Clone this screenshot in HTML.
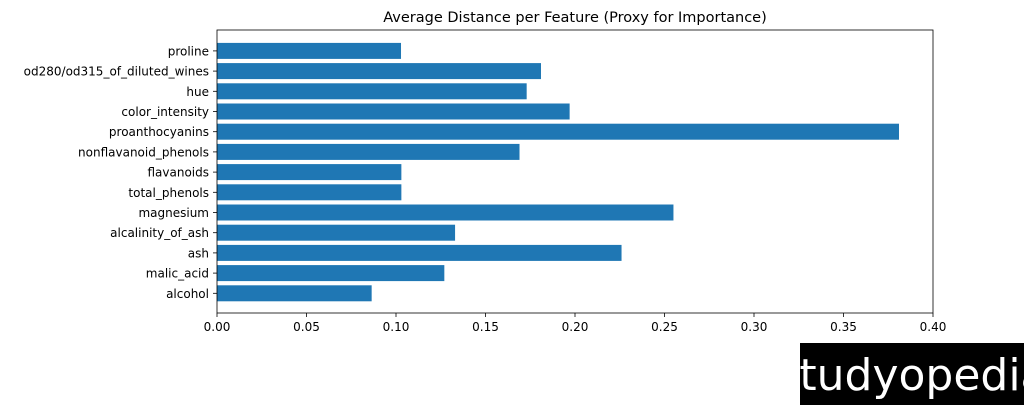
<!DOCTYPE html>
<html><head><meta charset="utf-8"><style>
body{margin:0;background:#fff;width:1024px;height:405px;overflow:hidden;font-family:"DejaVu Sans","Liberation Sans",sans-serif}
</style></head><body>
<svg id="chart" width="1024" height="405" xmlns="http://www.w3.org/2000/svg">
<text x="575" y="22" font-size="14.5" text-anchor="middle" fill="#000">Average Distance per Feature (Proxy for Importance)</text>
<g id="bars"></g><g id="axes"></g>
<rect x="800" y="343" width="224" height="62" fill="#000"/>
<text x="912" y="390" font-size="44" fill="#fff" text-anchor="middle" font-family="DejaVu Sans, sans-serif">studyopedia</text>
</svg>
<script>
const categories=["alcohol","malic_acid","ash","alcalinity_of_ash","magnesium","total_phenols","flavanoids","nonflavanoid_phenols","proanthocyanins","color_intensity","hue","od280/od315_of_diluted_wines","proline"];
const values=[0.0864,0.127,0.226,0.133,0.255,0.103,0.103,0.169,0.381,0.197,0.173,0.181,0.1028];
const xTicks=[0,0.05,0.1,0.15,0.2,0.25,0.3,0.35,0.4];
const xTickLabels=["0.00","0.05","0.10","0.15","0.20","0.25","0.30","0.35","0.40"];
const NS="http://www.w3.org/2000/svg";
const L=217,R=933,T=30,B=313;
const x=v=>L+v/0.4*(R-L);
const y0=293.3,step=20.2,bh=16;
const y=i=>y0-i*step;
const bars=document.getElementById('bars'),axes=document.getElementById('axes');
function mk(tag,a,p){const e=document.createElementNS(NS,tag);for(const k in a)e.setAttribute(k,a[k]);p.appendChild(e);return e;}
values.forEach((v,i)=>{
 const r=mk('rect',{x:L,y:y(i)-bh/2,width:x(v)-L,height:bh,fill:'#1f77b4'},bars);
 
 
 const t=mk('line',{x1:L-4,x2:L,y1:y(i),y2:y(i),stroke:'#000','stroke-width':0.8},axes);
 
 
 const lb=mk('text',{x:L-8,y:y(i)+4.5,'font-size':12,'text-anchor':'end',fill:'#000'},axes);
 lb.textContent=categories[i];
 
 
});
xTicks.forEach((v,i)=>{
 const t=mk('line',{x1:x(v),x2:x(v),y1:B,y2:B+4,stroke:'#000','stroke-width':0.8},axes);
 
 
 const lb=mk('text',{x:x(v),y:B+18,'font-size':12,'text-anchor':'middle',fill:'#000'},axes);
 lb.textContent=xTickLabels[i];
 
 
});
const f=mk('rect',{x:L,y:T,width:R-L,height:B-T,fill:'none',stroke:'#000','stroke-width':0.8},axes);


</script>
</body></html>
